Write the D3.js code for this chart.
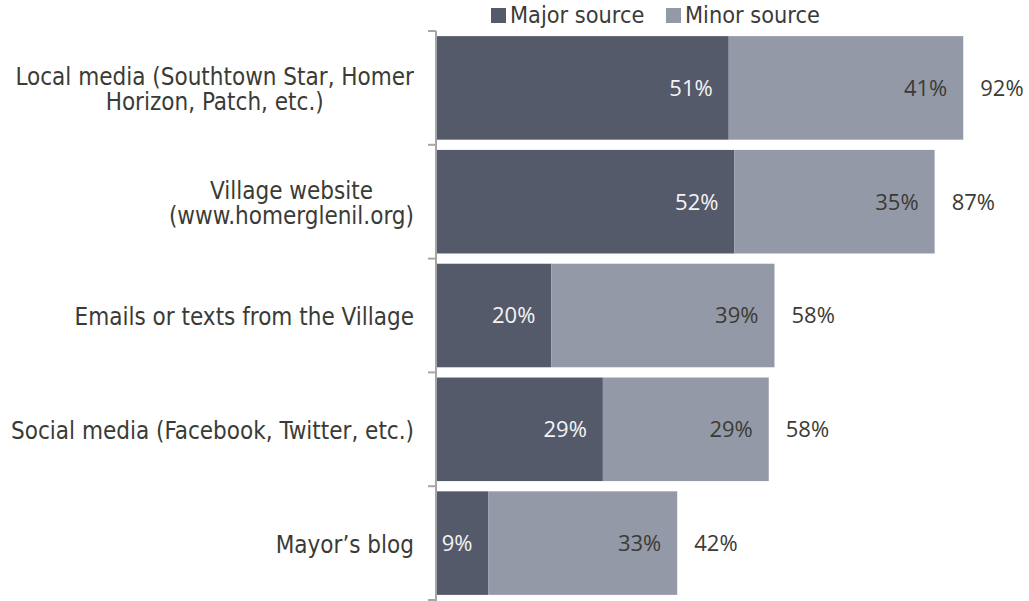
<!DOCTYPE html>
<html>
<head>
<meta charset="utf-8">
<script src="https://cdn.jsdelivr.net/npm/d3@7"></script>
<style>
  html, body { margin: 0; padding: 0; background: #fff; }
  svg { display: block; }
</style>
</head>
<body>
<svg id="chart" width="1029" height="601"></svg>
<script>
// Information sources, share of residents (%)
const categories = [
  ["Local media (Southtown Star, Homer", "Horizon, Patch, etc.)"],
  ["Village website", "(www.homerglenil.org)"],
  ["Emails or texts from the Village"],
  ["Social media (Facebook, Twitter, etc.)"],
  ["Mayor\u2019s blog"]
];
const majorSource = [51, 52, 20, 29, 9];
const minorSource = [41, 35, 39, 29, 33];
const totals = [92, 87, 58, 58, 42];
const seriesNames = ["Major source", "Minor source"];

const colors = { major: "#545a6a", minor: "#9499a8" };
const labelFont = "'DejaVu Sans Condensed', 'DejaVu Sans', sans-serif";
const valueFont = "'Open Sans', 'Noto Sans', sans-serif";
const textColor = "#3b3b35";

const svg = d3.select("#chart");

const x = d3.scaleLinear().domain([0, 100]).range([437, 1009]);
const y = d3.scaleBand()
  .domain(d3.range(categories.length))
  .range([31, 600])
  .paddingInner(0.09)
  .paddingOuter(0.045);

// category boundary ticks + axis line
const bounds = d3.range(categories.length + 1).map(i => 31 + i * (569 / categories.length));
svg.append("line")
  .attr("x1", 436).attr("x2", 436)
  .attr("y1", 31).attr("y2", 601)
  .attr("stroke", "#a6a6a6").attr("stroke-width", 2);
svg.selectAll("line.tick").data(bounds).enter().append("line")
  .attr("class", "tick")
  .attr("x1", 428).attr("x2", 436)
  .attr("y1", d => d).attr("y2", d => d)
  .attr("stroke", "#a6a6a6").attr("stroke-width", 2);

const rows = svg.selectAll("g.row").data(categories).enter().append("g").attr("class", "row");

// major segment
rows.append("rect")
  .attr("x", x(0))
  .attr("y", (d, i) => y(i))
  .attr("width", (d, i) => x(majorSource[i]) - x(0))
  .attr("height", y.bandwidth())
  .attr("fill", colors.major);

// minor segment
rows.append("rect")
  .attr("x", (d, i) => x(majorSource[i]))
  .attr("y", (d, i) => y(i))
  .attr("width", (d, i) => x(majorSource[i] + minorSource[i]) - x(majorSource[i]))
  .attr("height", y.bandwidth())
  .attr("fill", colors.minor);

const cy = i => y(i) + y.bandwidth() / 2;

// value labels
rows.append("text")
  .attr("x", (d, i) => x(majorSource[i]) - 16)
  .attr("y", (d, i) => cy(i))
  .attr("dy", "0.36em")
  .attr("text-anchor", "end")
  .attr("font-family", valueFont).attr("font-size", 22)
  .attr("fill", "#f4f4f4")
  .text((d, i) => majorSource[i] + "%");

rows.append("text")
  .attr("x", (d, i) => x(majorSource[i] + minorSource[i]) - 16)
  .attr("y", (d, i) => cy(i))
  .attr("dy", "0.36em")
  .attr("text-anchor", "end")
  .attr("font-family", valueFont).attr("font-size", 22)
  .attr("fill", textColor)
  .text((d, i) => minorSource[i] + "%");

rows.append("text")
  .attr("x", (d, i) => x(majorSource[i] + minorSource[i]) + 17)
  .attr("y", (d, i) => cy(i))
  .attr("dy", "0.36em")
  .attr("text-anchor", "start")
  .attr("font-family", valueFont).attr("font-size", 22)
  .attr("fill", textColor)
  .text((d, i) => totals[i] + "%");

// category labels: block right-aligned, lines centred within the block
const lineH = 25.5;
rows.each(function(lines, i) {
  const g = d3.select(this);
  const t = g.append("text")
    .attr("font-family", labelFont).attr("font-size", 24)
    .attr("fill", textColor);
  const spans = lines.map((l, k) => t.append("tspan").text(l));
  const widths = spans.map(s => s.node().getComputedTextLength());
  const w = d3.max(widths);
  const right = 414;
  const cx = right - w / 2;
  const y0 = cy(i) - (lines.length - 1) * lineH / 2;
  spans.forEach((s, k) => s
    .attr("x", cx)
    .attr("y", y0 + k * lineH + 1)
    .attr("dy", "0.36em")
    .attr("text-anchor", "middle"));
});

// legend
const legend = svg.append("g");
const legendX = [491, 666];
seriesNames.forEach((name, k) => {
  legend.append("rect")
    .attr("x", legendX[k]).attr("y", 8)
    .attr("width", 15).attr("height", 15)
    .attr("fill", k === 0 ? colors.major : colors.minor);
  legend.append("text")
    .attr("x", legendX[k] + 19).attr("y", 23)
    .attr("font-family", labelFont).attr("font-size", 23.3)
    .attr("fill", textColor)
    .text(name);
});
</script>
</body>
</html>
